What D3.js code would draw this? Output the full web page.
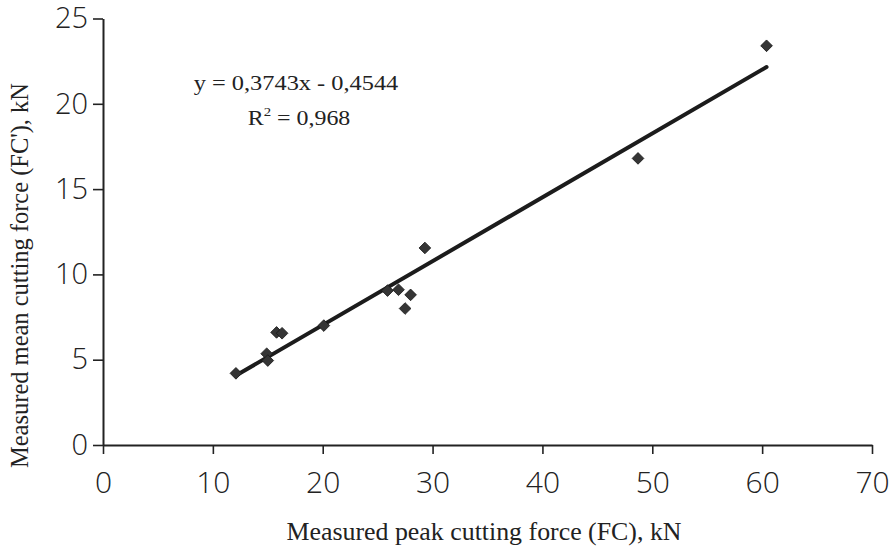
<!DOCTYPE html>
<html>
<head>
<meta charset="utf-8">
<script src="https://cdn.jsdelivr.net/npm/d3@7"></script>
<style>
  html, body { margin: 0; padding: 0; background: #fff; }
  svg { display: block; }
</style>
</head>
<body>
<svg id="chart" width="896" height="549"></svg>
<script>
// Measured peak cutting force (FC) vs measured mean cutting force (FC'), kN
const peakForce = [12.1, 14.9, 15.0, 15.8, 16.3, 20.1, 25.9, 26.9, 28.0, 27.5, 29.3, 48.7, 60.4];
const meanForce = [4.2, 5.35, 4.95, 6.6, 6.55, 7.0, 9.05, 9.1, 8.8, 8.0, 11.55, 16.8, 23.4];

// Linear trend reported for the data
const slope = 0.3743;
const intercept = -0.4544;
const rSquared = 0.968;

const xTicks = [0, 10, 20, 30, 40, 50, 60, 70];
const yTicks = [0, 5, 10, 15, 20, 25];

const xTitle = "Measured peak cutting force (FC), kN";
const yTitle = "Measured mean cutting force (FC'), kN";

const W = 896, H = 549;
const margin = { left: 103, right: 24, top: 18.5, bottom: 104 };

const svg = d3.select("#chart");

const x = d3.scaleLinear().domain([0, 70]).range([margin.left, W - margin.right]);
const y = d3.scaleLinear().domain([0, 25]).range([H - margin.bottom, margin.top]);

const tickFont = "'Open Sans', 'DejaVu Sans', sans-serif";
const serifFont = "'Liberation Serif', 'DejaVu Serif', serif";
const ink = "#222";

// X axis
const gx = svg.append("g")
  .attr("transform", `translate(0,${y(0)})`)
  .call(d3.axisBottom(x).tickValues(xTicks).tickFormat(d3.format("d"))
    .tickSize(9).tickSizeOuter(0).tickPadding(18));
gx.select(".domain").attr("stroke", ink).attr("stroke-width", 1.8);
gx.selectAll(".tick line").attr("stroke", ink).attr("stroke-width", 1.6);
gx.selectAll(".tick text")
  .attr("font-family", tickFont).attr("font-weight", 300)
  .attr("font-size", 30).attr("fill", ink);

// Y axis
const gy = svg.append("g")
  .attr("transform", `translate(${x(0)},0)`)
  .call(d3.axisLeft(y).tickValues(yTicks).tickFormat(d3.format("d"))
    .tickSize(10).tickSizeOuter(0).tickPadding(5));
gy.select(".domain").attr("stroke", ink).attr("stroke-width", 2);
gy.selectAll(".tick line").attr("stroke", ink).attr("stroke-width", 1.6);
gy.selectAll(".tick text")
  .attr("font-family", tickFont).attr("font-weight", 300)
  .attr("font-size", 29).attr("fill", ink);

// Axis titles
svg.append("text")
  .attr("x", 484).attr("y", 539.5)
  .attr("text-anchor", "middle")
  .attr("font-family", serifFont).attr("font-size", 25).attr("fill", ink)
  .attr("textLength", 395).attr("lengthAdjust", "spacingAndGlyphs")
  .text(xTitle);

svg.append("text")
  .attr("transform", "translate(28,275.5) rotate(-90)")
  .attr("text-anchor", "middle")
  .attr("font-family", serifFont).attr("font-size", 24.5).attr("fill", ink)
  .attr("textLength", 385).attr("lengthAdjust", "spacingAndGlyphs")
  .text(yTitle);

// Trend line across the range of measured peak forces
const xMin = d3.min(peakForce), xMax = d3.max(peakForce);
svg.append("line")
  .attr("x1", x(xMin)).attr("y1", y(slope * xMin + intercept))
  .attr("x2", x(xMax)).attr("y2", y(slope * xMax + intercept))
  .attr("stroke", "#1c1c1c").attr("stroke-width", 4).attr("stroke-linecap", "round");

// Data points as diamonds
const diamond = d3.symbol().type(d3.symbolSquare).size(68);
svg.append("g").selectAll("path")
  .data(peakForce.map((v, i) => [v, meanForce[i]]))
  .join("path")
  .attr("d", diamond)
  .attr("transform", d => `translate(${x(d[0])},${y(d[1])}) rotate(45)`)
  .attr("fill", "#353535")
  .attr("stroke", "#1a1a1a").attr("stroke-width", 0.8);

// Trend equation and coefficient of determination
const fmt = v => d3.format(".4f")(Math.abs(v)).replace(".", ",");
const eq = svg.append("g").attr("font-family", serifFont).attr("font-size", 21).attr("fill", ink);
eq.append("text")
  .attr("transform", "translate(296,90) scale(1.16,1)")
  .attr("text-anchor", "middle")
  .text(`y = ${fmt(slope)}x ${intercept < 0 ? "-" : "+"} ${fmt(intercept)}`);
const r2 = eq.append("text")
  .attr("transform", "translate(299,125) scale(1.14,1)")
  .attr("text-anchor", "middle");
r2.append("tspan").text("R");
r2.append("tspan").attr("font-size", 13).attr("dy", -9).text("2");
r2.append("tspan").attr("dy", 9).text(` = ${String(rSquared).replace(".", ",")}`);
</script>
</body>
</html>
